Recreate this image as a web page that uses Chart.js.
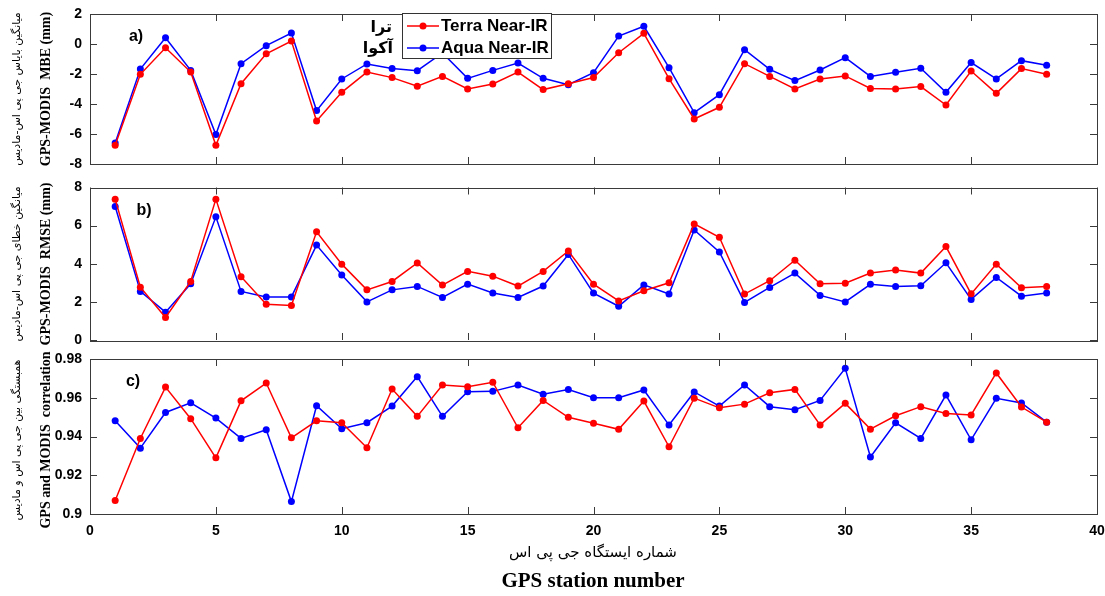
<!DOCTYPE html>
<html>
<head>
<meta charset="utf-8">
<script src="https://cdn.jsdelivr.net/npm/chart.js@4/dist/chart.umd.min.js"></script>
<style>
  html, body { margin:0; padding:0; background:#fff; }
  body { width:1105px; height:596px; position:relative; overflow:hidden; font-family:"Liberation Sans", Arial, sans-serif; }
  canvas { position:absolute; left:0; }
  .t { position:absolute; white-space:nowrap; color:#000; }
  .rot { transform-origin:center center; transform:translate(-50%,-50%) rotate(-90deg); }
  .fa { font-family:"DejaVu Sans", sans-serif; direction:rtl; }
  .en { font-family:"Liberation Serif", "Times New Roman", serif; font-weight:bold; }
  .pl { font-weight:bold; font-size:16px; transform:translate(-50%,-50%); }
  #legend { position:absolute; left:402px; top:13px; width:148px; height:44px; border:1px solid #333; background:#fff; }
  #legend .row { position:absolute; left:0; height:22px; display:flex; align-items:center; font-weight:bold; font-size:17px; }
  #legend svg { margin-left:4px; margin-right:2px; }
</style>
</head>
<body>
<canvas id="ca" width="1105" height="175" style="top:0px"></canvas>
<canvas id="cb" width="1105" height="175" style="top:175px"></canvas>
<canvas id="cc" width="1105" height="200" style="top:345px"></canvas>

<div class="t fa rot" style="left:16px; top:89px; font-size:11px;">میانگین بایاس جی پی اس-مادیس</div>
<div class="t en rot" style="left:46px; top:89px; font-size:14px;">GPS-MODIS&nbsp; MBE (mm)</div>
<div class="t fa rot" style="left:16px; top:264px; font-size:11px;">میانگین خطای جی پی اس-مادیس</div>
<div class="t en rot" style="left:46px; top:264px; font-size:14px;">GPS-MODIS&nbsp; RMSE (mm)</div>
<div class="t fa rot" style="left:16px; top:440px; font-size:11px;">همبستگی بین جی پی اس و مادیس</div>
<div class="t en rot" style="left:46px; top:440px; font-size:14px;">GPS and MODIS&nbsp; correlation</div>

<div class="t pl" style="left:136px; top:36px;">a)</div>
<div class="t pl" style="left:144px; top:210px;">b)</div>
<div class="t pl" style="left:133px; top:381px;">c)</div>

<div class="t fa" style="left:392px; top:17px; font-size:16px; font-weight:bold; transform:translateX(-100%); direction:rtl;">ترا</div>
<div class="t fa" style="left:393px; top:38px; font-size:16px; font-weight:bold; transform:translateX(-100%); direction:rtl;">آکوا</div>

<div id="legend">
  <div class="row" style="top:1px;"><svg width="32" height="10"><line x1="0" y1="5" x2="32" y2="5" stroke="#ff0000" stroke-width="1.5"/><circle cx="16" cy="5" r="3.5" fill="#ff0000"/></svg>Terra Near-IR</div>
  <div class="row" style="top:23px;"><svg width="32" height="10"><line x1="0" y1="5" x2="32" y2="5" stroke="#0000ff" stroke-width="1.5"/><circle cx="16" cy="5" r="3.5" fill="#0000ff"/></svg>Aqua Near-IR</div>
</div>

<div class="t fa" style="left:593px; top:543px; font-size:15px; transform:translateX(-50%);">شماره ایستگاه جی پی اس</div>
<div class="t en" style="left:593px; top:568px; font-size:21px; transform:translateX(-50%);">GPS station number</div>

<script>
// ---- data ----
const stations = [1,2,3,4,5,6,7,8,9,10,11,12,13,14,15,16,17,18,19,20,21,22,23,24,25,26,27,28,29,30,31,32,33,34,35,36,37,38];
const xTicks = [0,5,10,15,20,25,30,35,40];

const terraMBE = [-6.75,-2.02,-0.25,-1.87,-6.75,-2.65,-0.65,0.2,-5.13,-3.22,-1.87,-2.24,-2.82,-2.16,-3.0,-2.67,-1.87,-3.04,-2.65,-2.24,
                  -0.58,0.71,-2.31,-5.0,-4.22,-1.31,-2.16,-3.0,-2.33,-2.13,-2.96,-3.0,-2.84,-4.07,-1.8,-3.29,-1.64,-2.02];
const aquaMBE  = [-6.6,-1.67,0.42,-1.76,-6.04,-1.31,-0.11,0.73,-4.44,-2.33,-1.33,-1.64,-1.78,-0.6,-2.29,-1.76,-1.27,-2.29,-2.71,-1.91,
                  0.53,1.18,-1.58,-4.58,-3.38,-0.38,-1.69,-2.44,-1.73,-0.91,-2.16,-1.89,-1.62,-3.22,-1.24,-2.33,-1.11,-1.42];

const terraRMSE = [7.39,2.77,1.18,3.07,7.39,3.32,1.88,1.81,5.68,3.98,2.63,3.07,4.04,2.88,3.6,3.35,2.83,3.6,4.67,2.93,
                   2.05,2.58,3.0,6.09,5.39,2.41,3.11,4.19,2.95,2.98,3.51,3.67,3.51,4.9,2.42,3.98,2.74,2.81];
const aquaRMSE  = [7.0,2.55,1.46,2.95,6.46,2.55,2.26,2.26,4.98,3.41,2.0,2.63,2.81,2.23,2.93,2.47,2.23,2.83,4.49,2.46,
                   1.77,2.89,2.41,5.77,4.62,1.97,2.76,3.51,2.34,2.0,2.92,2.81,2.84,4.05,2.13,3.28,2.3,2.47];

const terraCorr = [0.907,0.939,0.9655,0.9492,0.929,0.9584,0.9676,0.9393,0.9481,0.9471,0.9342,0.9645,0.9504,0.9666,0.9657,0.968,0.9445,0.9586,0.9499,0.9468,
                   0.9437,0.9583,0.9347,0.9598,0.9548,0.9567,0.9626,0.9643,0.946,0.9571,0.9438,0.9507,0.9554,0.9519,0.9511,0.9728,0.9552,0.9474];
const aquaCorr  = [0.9481,0.934,0.9524,0.9574,0.9495,0.939,0.9435,0.9064,0.9559,0.944,0.9471,0.9557,0.9709,0.9504,0.9631,0.9633,0.9666,0.9618,0.9642,0.96,
                   0.96,0.964,0.9459,0.963,0.9557,0.9666,0.9554,0.9538,0.9586,0.9752,0.9294,0.9471,0.939,0.9614,0.9383,0.9597,0.9573,0.9474];

const yTicksA = [-8,-6,-4,-2,0,2];
const yTicksB = [0,2,4,6,8];
const yTicksC = [0.9,0.92,0.94,0.96,0.98];

// ---- helpers ----
const RED = '#ff0000', BLUE = '#0000ff', FRAME = '#3a3a3a';
const tickFont = { family: '"Liberation Sans", Arial, sans-serif', size: 14, weight: 'bold' };

const framePlugin = {
  id: 'matlabFrame',
  afterDraw(chart) {
    const { ctx, chartArea: a, scales } = chart;
    ctx.save();
    ctx.strokeStyle = FRAME;
    ctx.lineWidth = 1;
    ctx.strokeRect(Math.round(a.left) + 0.5, Math.round(a.top) + 0.5, Math.round(a.right - a.left), Math.round(a.bottom - a.top));
    const L = 7;
    ctx.beginPath();
    xTicks.forEach(v => {
      const px = Math.round(scales.x.getPixelForValue(v)) + 0.5;
      ctx.moveTo(px, a.bottom); ctx.lineTo(px, a.bottom - L);
      ctx.moveTo(px, a.top); ctx.lineTo(px, a.top + L);
    });
    scales.y.ticks.forEach(t => {
      const py = Math.round(scales.y.getPixelForValue(t.value)) + 0.5;
      ctx.moveTo(a.left, py); ctx.lineTo(a.left + L, py);
      ctx.moveTo(a.right, py); ctx.lineTo(a.right - L, py);
    });
    ctx.stroke();
    ctx.restore();
  }
};

function ds(label, vals, color) {
  return {
    label,
    data: stations.map((s, i) => ({ x: s, y: vals[i] })),
    borderColor: color,
    backgroundColor: color,
    pointBackgroundColor: color,
    pointBorderColor: color,
    pointRadius: 3.5,
    pointBorderWidth: 0,
    borderWidth: 1.5,
    tension: 0,
    clip: false
  };
}

function makeChart(id, terra, aqua, yTicks, pad, showX) {
  const yMin = yTicks[0], yMax = yTicks[yTicks.length - 1];
  return new Chart(document.getElementById(id), {
    type: 'line',
    data: { datasets: [ds('Terra Near-IR', terra, RED), ds('Aqua Near-IR', aqua, BLUE)] },
    options: {
      responsive: false,
      devicePixelRatio: 1,
      animation: false,
      layout: { padding: pad },
      plugins: { legend: { display: false }, tooltip: { enabled: false } },
      scales: {
        x: {
          type: 'linear', min: 0, max: 40,
          display: showX,
          afterBuildTicks: s => { s.ticks = xTicks.map(v => ({ value: v })); },
          grid: { display: false, drawTicks: false },
          border: { display: false },
          ticks: { color: '#000', font: tickFont, padding: 9, maxRotation: 0 },
          afterFit: s => { s.height = showX ? 31 : 0; s.paddingLeft = 0; s.paddingRight = 0; }
        },
        y: {
          type: 'linear', min: yMin, max: yMax,
          afterBuildTicks: s => { s.ticks = yTicks.map(v => ({ value: v })); },
          grid: { display: false, drawTicks: false },
          border: { display: false },
          ticks: { color: '#000', font: tickFont, padding: 8,
                   callback: v => String(Number(v.toFixed(2))) },
          afterFit: s => { s.width = 90; s.paddingTop = 0; s.paddingBottom = 0; }
        }
      }
    },
    plugins: [framePlugin]
  });
}

makeChart('ca', terraMBE, aquaMBE, yTicksA, { top: 14, bottom: 11, left: 0, right: 8 }, false);
makeChart('cb', terraRMSE, aquaRMSE, yTicksB, { top: 12.5, bottom: 10, left: 0, right: 8 }, false);
makeChart('cc', terraCorr, aquaCorr, yTicksC, { top: 14, bottom: 0, left: 0, right: 8 }, true);
</script>
</body>
</html>
